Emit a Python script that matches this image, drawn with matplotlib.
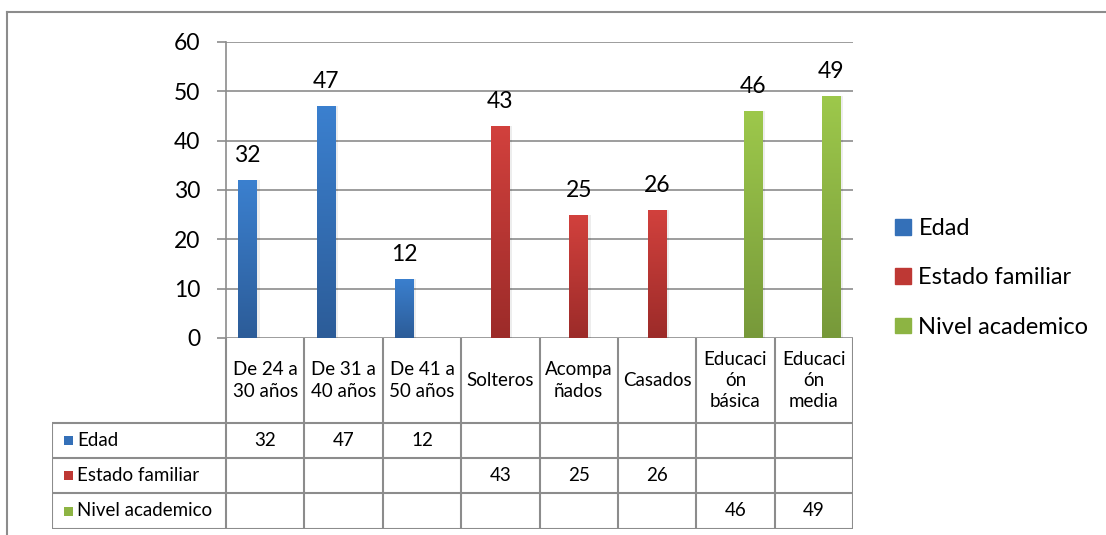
import matplotlib
matplotlib.use("Agg")
import matplotlib.pyplot as plt
import numpy as np
from matplotlib.patches import Rectangle, Patch
from matplotlib.lines import Line2D
from matplotlib.colors import LinearSegmentedColormap

plt.rcParams['font.family'] = ['Lato', 'DejaVu Sans']

categories = ["De 24 a\n30 años", "De 31 a\n40 años", "De 41 a\n50 años", "Solteros",
              "Acompa\nñados", "Casados", "Educaci\nón\nbásica", "Educaci\nón\nmedia"]
series_names = ["Edad", "Estado familiar", "Nivel academico"]
edad = [32, 47, 12, None, None, None, None, None]
estado = [None, None, None, 43, 25, 26, None, None]
nivel = [None, None, None, None, None, None, 46, 49]
series_values = [edad, estado, nivel]
yticks = [0, 10, 20, 30, 40, 50, 60]

top_colors = ["#3B80CF", "#D2413D", "#9DC84B"]
bot_colors = ["#2C5C98", "#9C2B29", "#77993A"]
legend_colors = ["#3470B8", "#BE3834", "#8DB443"]

W, H = 1106, 535
fig = plt.figure(figsize=(W / 100, H / 100), dpi=100)

def fx(px):
    return px / W

def fy(py):
    return 1 - py / H

# outer chart border
fig.add_artist(Line2D([fx(7), fx(1106)], [fy(12), fy(12)], color="#8C8C8C", lw=1.5))
fig.add_artist(Line2D([fx(7), fx(7)], [fy(12), fy(535)], color="#8C8C8C", lw=1.5))

L, R, T, B = 226, 853, 42, 338
ax = fig.add_axes([fx(L), fy(B), fx(R - L), (B - T) / H])
n = len(categories)
ax.set_xlim(0, n)
ax.set_ylim(0, 60)
ax.set_yticks(yticks)
ax.tick_params(axis='y', length=6.5, width=1.2, color="#8C8C8C", pad=12, labelsize=16.5)
ax.tick_params(axis='x', bottom=False, labelbottom=False)
for s in ['top', 'right', 'bottom']:
    ax.spines[s].set_visible(False)
ax.spines['left'].set_color("#8C8C8C")
ax.spines['left'].set_linewidth(1.2)
ax.grid(axis='y', color="#8C8C8C", lw=1.2)
ax.set_axisbelow(True)

bar_w = 0.235
offsets = [-0.225, 0.0, 0.225]
grad = np.linspace(0, 1, 256).reshape(-1, 1)
for si, vals in enumerate(series_values):
    cmap = LinearSegmentedColormap.from_list("g%d" % si, [bot_colors[si], top_colors[si]])
    for ci, v in enumerate(vals):
        if v is None:
            continue
        x = ci + 0.5 + offsets[si]
        # soft shadow
        ax.bar(x + 0.035, v, width=bar_w, color="#000000", alpha=0.07, zorder=2, linewidth=0)
        bars = ax.bar(x, v, width=bar_w, color=top_colors[si], zorder=3, linewidth=0)
        im = ax.imshow(grad, extent=[x - bar_w / 2, x + bar_w / 2, 0, v], origin='lower',
                       cmap=cmap, aspect='auto', zorder=3.5)
        im.set_clip_path(bars[0])
        ax.annotate(str(v), (x, v), xytext=(0, 13), textcoords='offset points',
                    ha='center', va='baseline', fontsize=16.5, color="black")
ax.set_xlim(0, n)
ax.set_ylim(0, 60)

# data table
TL, TB = 52, 529
row_edges = [338, 423, 458, 493, 529]
tax = fig.add_axes([fx(TL), fy(TB), fx(R - TL), (TB - B) / H])
cw = (R - L) / n
x0 = -(L - TL) / cw
tax.set_xlim(x0, n)
tax.set_ylim(TB, B)
tax.axis('off')
gc = "#8C8C8C"
lw = 1.5
for ry in row_edges[1:]:
    tax.plot([x0, n], [ry, ry], color=gc, lw=lw, solid_capstyle='butt')
for i in range(n + 1):
    tax.plot([i, i], [row_edges[0], row_edges[-1]], color=gc, lw=lw, solid_capstyle='butt')
tax.plot([x0, x0], [row_edges[1], row_edges[-1]], color=gc, lw=lw, solid_capstyle='butt')

tfs = 13.5
for ci, c in enumerate(categories):
    tax.text(ci + 0.5, (row_edges[0] + row_edges[1]) / 2, c, ha='center', va='center',
             fontsize=tfs, linespacing=1.3)
for si, vals in enumerate(series_values):
    yc = (row_edges[si + 1] + row_edges[si + 2]) / 2
    tax.add_patch(Rectangle((x0 + 12 / cw, yc - 4.5), 9 / cw, 9, color=legend_colors[si], lw=0))
    tax.text(x0 + 25 / cw, yc, series_names[si], ha='left', va='center', fontsize=tfs)
    for ci, v in enumerate(vals):
        if v is not None:
            tax.text(ci + 0.5, yc, str(v), ha='center', va='center', fontsize=tfs)

handles = [Patch(color=legend_colors[i], label=series_names[i]) for i in range(3)]
fig.legend(handles=handles, loc='center left', bbox_to_anchor=(fx(874), fy(278)),
           frameon=False, fontsize=17, handlelength=0.68, handleheight=0.65,
           handletextpad=0.3, labelspacing=1.2)

fig.savefig("out.png", dpi=100)
